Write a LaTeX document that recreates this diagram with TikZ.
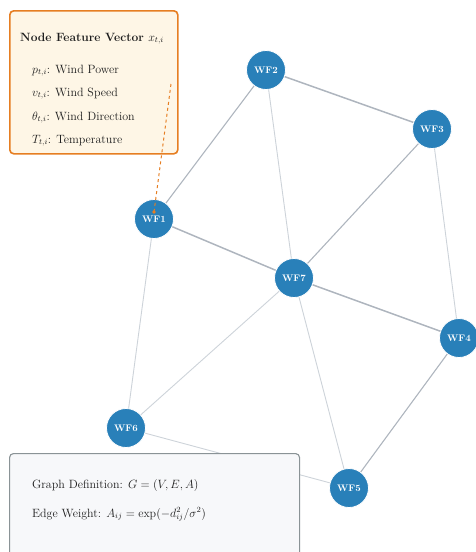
\documentclass[tikz,border=0pt]{standalone}
\usetikzlibrary{calc}
\definecolor{nodeblue}{HTML}{2980B9}
\definecolor{edgegray}{HTML}{AEB5BE}
\definecolor{edgelight}{HTML}{CDD3D9}
\definecolor{boxorange}{HTML}{E67E22}
\definecolor{boxcream}{HTML}{FEF6E6}
\definecolor{boxgray}{HTML}{8A9396}
\definecolor{boxfill}{HTML}{F7F8FA}
\definecolor{txt}{HTML}{1E1E1E}
\tikzset{
  wf/.style={circle, fill=nodeblue, draw=white, line width=0.8pt, minimum size=39pt, inner sep=0pt,
    text=white, font=\fontsize{9.5}{11}\selectfont\bfseries},
  edgeA/.style={draw=edgegray, line width=1.5pt},
  edgeB/.style={draw=edgegray, line width=1.1pt},
  edgeC/.style={draw=edgelight, line width=0.9pt},
  lbl/.style={anchor=base west, inner sep=0pt, text=txt, font=\fontsize{12}{14}\selectfont},
}
\begin{document}
\begin{tikzpicture}[x=1pt,y=-1pt]
\useasboundingbox (0,0) rectangle (476,552);
% node positions
\coordinate (p1) at (154,219);
\coordinate (p2) at (266,70);
\coordinate (p3) at (432,129);
\coordinate (p4) at (459,338);
\coordinate (p5) at (349,488);
\coordinate (p6) at (126,428);
\coordinate (p7) at (294,278);
% edges
\draw[edgeB] (p1) -- (p2);
\draw[edgeA] (p2) -- (p3);
\draw[edgeC] (p2) -- (p7);
\draw[edgeB] (p3) -- (p7);
\draw[edgeC] (p3) -- (p4);
\draw[edgeA] (p1) -- (p7);
\draw[edgeA] (p7) -- (p4);
\draw[edgeC] (p1) -- (p6);
\draw[edgeC] (p6) -- (p7);
\draw[edgeC] (p7) -- (p5);
\draw[edgeB] (p4) -- (p5);
\draw[edgeC] (p6) -- (p5);
% nodes
\node[wf] (wf1) at (p1) {WF1};
\node[wf] (wf2) at (p2) {WF2};
\node[wf] (wf3) at (p3) {WF3};
\node[wf] (wf4) at (p4) {WF4};
\node[wf] (wf5) at (p5) {WF5};
\node[wf] (wf6) at (p6) {WF6};
\node[wf] (wf7) at (p7) {WF7};
% feature box
\node[draw=boxorange, fill=boxcream, line width=1.6pt, rounded corners=4pt,
      minimum width=168pt, minimum height=143pt, anchor=north west, inner sep=0pt]
      (fbox) at (9,10) {};
\node[lbl, font=\fontsize{12}{14}\selectfont\bfseries] (ftitle) at (20,41) {Node Feature Vector \normalfont$x_{t,i}$};
\node[lbl] (f1) at (32,73) {$p_{t,i}$: Wind Power};
\node[lbl] (f2) at (32,96) {$v_{t,i}$: Wind Speed};
\node[lbl] (f3) at (32,120) {$\theta_{t,i}$: Wind Direction};
\node[lbl] (f4) at (32,143) {$T_{t,i}$: Temperature};
\coordinate (fend) at (171,84);
\draw[boxorange, dashed, line width=1pt] (fend) -- ($(wf1.center)+(0,-7)$) coordinate (fdot);
\fill[boxorange] (fdot) circle (1.8pt);
% graph box
\node[draw=boxgray, fill=boxfill, line width=1.1pt, rounded corners=4pt,
      minimum width=290pt, minimum height=110pt, anchor=north west, inner sep=0pt]
      (gbox) at (9,453) {};
\node[lbl] (g1) at (32,488) {Graph Definition: $G=(V,E,A)$};
\node[lbl] (g2) at (32,517) {Edge Weight: $A_{ij}=\exp(-d_{ij}^{2}/\sigma^{2})$};
\end{tikzpicture}
\end{document}
